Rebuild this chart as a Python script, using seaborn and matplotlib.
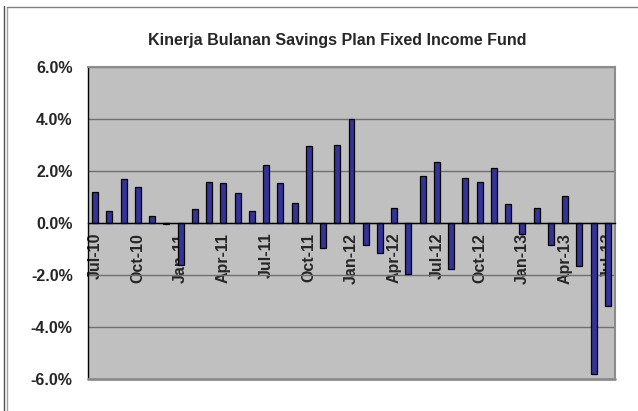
import matplotlib
matplotlib.use("Agg")
import matplotlib.pyplot as plt
from matplotlib.lines import Line2D
from matplotlib.ticker import FuncFormatter, MultipleLocator
import pandas as pd
import seaborn as sns

months = ["Jul-10", "Aug-10", "Sep-10", "Oct-10", "Nov-10", "Dec-10",
          "Jan-11", "Feb-11", "Mar-11", "Apr-11", "May-11", "Jun-11",
          "Jul-11", "Aug-11", "Sep-11", "Oct-11", "Nov-11", "Dec-11",
          "Jan-12", "Feb-12", "Mar-12", "Apr-12", "May-12", "Jun-12",
          "Jul-12", "Aug-12", "Sep-12", "Oct-12", "Nov-12", "Dec-12",
          "Jan-13", "Feb-13", "Mar-13", "Apr-13", "May-13", "Jun-13",
          "Jul-13"]
returns = [1.18, 0.45, 1.69, 1.37, 0.28, -0.05,
           -1.62, 0.52, 1.59, 1.53, 1.14, 0.45,
           2.24, 1.55, 0.77, 2.97, -0.96, 3.00,
           3.99, -0.83, -1.14, 0.56, -1.98, 1.82,
           2.36, -1.77, 1.72, 1.59, 2.10, 0.72,
           -0.41, 0.59, -0.83, 1.05, -1.67, -5.82,
           -3.20]
label_months = months[::3]

df = pd.DataFrame({"month": months, "ret": returns})

sns.set_style("white")
plt.rcParams["font.family"] = ["Liberation Sans", "DejaVu Sans"]
plt.rcParams["font.weight"] = "bold"

fig = plt.figure(figsize=(6.38, 4.11), dpi=100)
ax = fig.add_axes([88 / 638, 1 - 379 / 411, (615 - 88) / 638, (379 - 67) / 411])
ax.set_facecolor("#C0C0C0")

sns.barplot(data=df, x="month", y="ret", color="#333399", saturation=1,
            width=0.42, edgecolor="black", linewidth=0.9, ax=ax, zorder=3)

ax.set_xlim(-0.5, len(months) - 0.5)
ax.set_ylim(-6, 6)
ax.yaxis.set_major_locator(MultipleLocator(2))
ax.yaxis.set_major_formatter(FuncFormatter(lambda v, p: f"{v:.1f}%"))
ax.grid(axis="y", color="#707070", linewidth=1.0, zorder=0)
ax.set_axisbelow(True)

# x axis crosses at zero, labels every quarter
ax.spines["bottom"].set_position(("data", 0))
ax.spines["bottom"].set_color("black")
ax.spines["bottom"].set_linewidth(1.0)
ax.spines["bottom"].set_zorder(4)
ax.spines["left"].set_color("black")
ax.spines["left"].set_linewidth(1.0)
for s in ["top", "right"]:
    ax.spines[s].set_color("#8c8c8c")
    ax.spines[s].set_linewidth(1.5)
ax.axhline(-6, color="#8c8c8c", linewidth=2, zorder=5, clip_on=False)

ax.set_xticks(range(0, len(months), 3))
ax.set_xticklabels(label_months, rotation=90, fontsize=11.5, fontweight="bold",
                   va="top", ha="center")
ax.set_xticks([i - 0.5 for i in range(1, len(months))], minor=True)
ax.tick_params(axis="x", which="major", length=0, pad=7)
ax.tick_params(axis="x", which="minor", direction="out", length=3, width=0.8, color="black")
ax.tick_params(axis="y", direction="out", length=4, width=1, color="black",
               labelsize=11.5, pad=7)
for t in ax.get_yticklabels():
    t.set_fontweight("bold")
ax.set_xlabel("")
ax.set_ylabel("")

fig.text(337 / 638, 1 - 41 / 411, "Kinerja Bulanan Savings Plan Fixed Income Fund",
         ha="center", va="center", fontsize=11.5, fontweight="bold")

# chart area frame
fig.add_artist(Line2D([4 / 638, 4 / 638], [0, 1 - 6 / 411], color="#505050", linewidth=1))
fig.add_artist(Line2D([7 / 638, 7 / 638], [0, 1 - 7 / 411], color="#a0a0a0", linewidth=1))
fig.add_artist(Line2D([7 / 638, 1], [1 - 7 / 411, 1 - 7 / 411], color="#808080", linewidth=1))

fig.savefig("out.png", dpi=100)
